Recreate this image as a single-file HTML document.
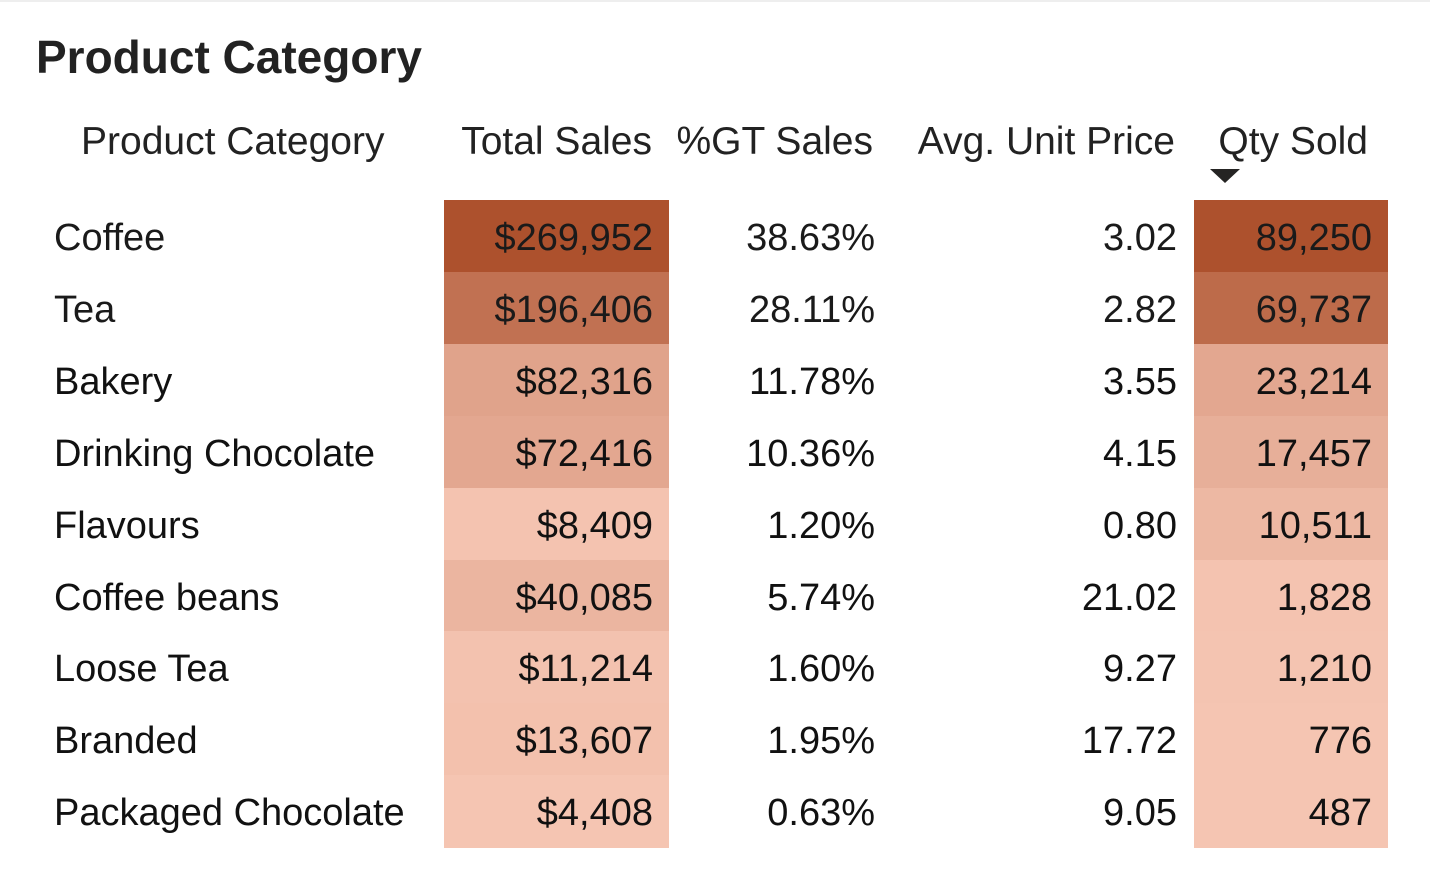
<!DOCTYPE html>
<html><head><meta charset="utf-8">
<style>
body{margin:0;width:1430px;height:893px;background:#fff;font-family:"Liberation Sans",sans-serif;position:relative;overflow:hidden;color:#111}
.t{position:absolute;white-space:nowrap;line-height:1}
.c{position:absolute}
</style></head><body>
<div style="position:absolute;left:0;top:0;width:1430px;height:2px;background:#eee"></div>
<div class="t" style="left:36px;top:34px;font-size:46px;font-weight:bold;color:#222">Product Category</div>
<div class="t" style="left:81px;top:122px;font-size:39px;color:#222">Product Category</div>
<div class="t" style="right:778px;top:122px;font-size:39px;color:#222">Total Sales</div>
<div class="t" style="right:557px;top:122px;font-size:39px;color:#222">%GT Sales</div>
<div class="t" style="right:255px;top:122px;font-size:39px;color:#222">Avg. Unit Price</div>
<div class="t" style="right:62px;top:122px;font-size:39px;color:#222">Qty Sold</div>
<svg style="position:absolute;left:1209px;top:168px" width="32" height="16"><polygon points="1,1 31,1 16,15" fill="#252423"/></svg>
<div id="tbl"></div>
<script>
const categories=["Coffee","Tea","Bakery","Drinking Chocolate","Flavours","Coffee beans","Loose Tea","Branded","Packaged Chocolate"];
const sales=[269952,196406,82316,72416,8409,40085,11214,13607,4408];
const gtPct=[38.63,28.11,11.78,10.36,1.20,5.74,1.60,1.95,0.63];
const avgPrice=[3.02,2.82,3.55,4.15,0.80,21.02,9.27,17.72,9.05];
const qty=[89250,69737,23214,17457,10511,1828,1210,776,487];
const lo=[245,197,178],hi=[173,81,45];
function shade(v,arr){const mn=Math.min(...arr),mx=Math.max(...arr);const f=(v-mn)/(mx-mn);return 'rgb('+lo.map((l,i)=>Math.round(l+(hi[i]-l)*f)).join(',')+')';}
const fmt=n=>n.toLocaleString('en-US');
const tbl=document.getElementById('tbl');
const top0=200,rh=71.9;
function txt(s,style,name){const d=document.createElement('div');d.className='t';d.textContent=s;d.style.cssText=style;


tbl.appendChild(d);}
function cell(l,w,y,col,name){const d=document.createElement('div');d.className='c';d.style.cssText=`left:${l}px;width:${w}px;top:${y}px;height:${rh+0.5}px;background:${col}`;


tbl.appendChild(d);}
categories.forEach((c,i)=>{
 const y=top0+i*rh, ty=y+19;
 cell(444,225,y,shade(sales[i],sales),'total-sales-cell');
 cell(1194,194,y,shade(qty[i],qty),'qty-sold-cell');
 const fs='font-size:38px;color:'+(i<2?'#1a1a1a':'#111');
 txt(c,`left:54px;top:${ty}px;${fs}`,'category-label');
 txt('$'+fmt(sales[i]),`right:777px;top:${ty}px;${fs}`,'total-sales-value');
 txt(gtPct[i].toFixed(2)+'%',`right:555px;top:${ty}px;${fs}`,'gt-sales-value');
 txt(avgPrice[i].toFixed(2),`right:253px;top:${ty}px;${fs}`,'avg-unit-price-value');
 txt(fmt(qty[i]),`right:58px;top:${ty}px;${fs}`,'qty-sold-value');
});
</script>
</body></html>
